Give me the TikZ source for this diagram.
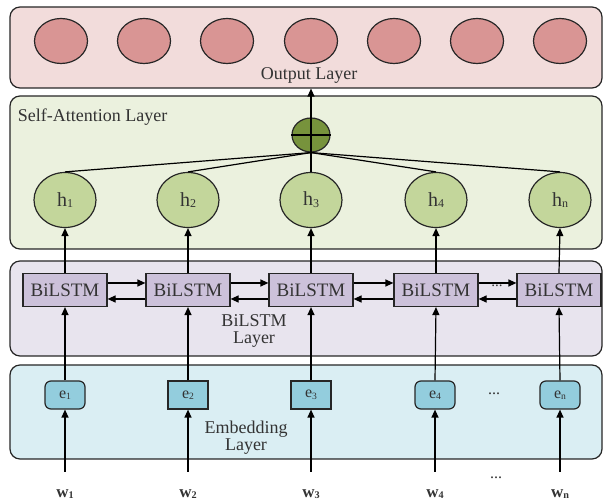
\documentclass[tikz,border=0pt]{standalone}
\usepackage{fontspec}
\setmainfont{Liberation Serif}
\usetikzlibrary{shapes.geometric,arrows.meta}
\definecolor{outbg}{HTML}{F2DCDB}
\definecolor{outfill}{HTML}{D99594}
\definecolor{attbg}{HTML}{EBF1DE}
\definecolor{hfill}{HTML}{C3D69B}
\definecolor{plusfill}{HTML}{77933C}
\definecolor{lstmbg}{HTML}{E8E4EE}
\definecolor{lstmfill}{HTML}{CCC1DA}
\definecolor{embbg}{HTML}{DAEEF3}
\definecolor{embfill}{HTML}{93CDDD}
\definecolor{txt}{HTML}{333333}
\newcommand{\lsub}[1]{\raisebox{-0.2ex}{\fontsize{0.6em}{0.6em}\selectfont #1}}
\begin{document}
\begin{tikzpicture}[x=1pt,y=-1pt,line width=1.2pt,
  every node/.style={text=txt},
  layer/.style={draw=black!85,rounded corners=10pt,inner sep=0pt,minimum width=592pt},
  outc/.style={ellipse,draw=black!85,fill=outfill,minimum width=53pt,minimum height=45pt,inner sep=0pt},
  hc/.style={ellipse,draw=black!85,fill=hfill,minimum width=62pt,minimum height=55pt,inner sep=0pt,font=\fontsize{20}{20}\selectfont},
  plusc/.style={ellipse,draw=black!85,fill=plusfill,minimum width=38pt,minimum height=34pt,inner sep=0pt},
  lstm/.style={rectangle,draw=black!85,fill=lstmfill,minimum width=84pt,minimum height=33pt,inner sep=0pt,font=\fontsize{19}{19}\selectfont},
  emb/.style={rectangle,draw=black!85,fill=embfill,minimum width=40pt,minimum height=28pt,inner sep=0pt,font=\fontsize{16}{16}\selectfont},
  embr/.style={emb,rounded corners=6pt},
  wlab/.style={font=\fontsize{17}{17}\selectfont\bfseries},
  lab/.style={font=\fontsize{18}{17}\selectfont,align=center},
  arr/.style={-{Triangle[length=8pt,width=7pt]}},
]
\useasboundingbox (0,0) rectangle (603,502);
% layer boxes
\node[layer,fill=outbg,minimum height=81pt] (outbox) at (306,47.5) {};
\node[layer,fill=attbg,minimum height=153pt] (attbox) at (306,172.5) {};
\node[layer,fill=lstmbg,minimum height=95pt] (lstmbox) at (306,308.5) {};
\node[layer,fill=embbg,minimum height=94pt] (embbox) at (306,412) {};
% output layer
\foreach \i/\x in {1/61,2/144,3/227,4/311,5/394,6/477,7/560}
  \node[outc] (o\i) at (\x,41) {};
\node[lab] (outlab) at (309,75) {Output Layer};
% self-attention
\node[lab,anchor=west] (attlab) at (14,117) {Self-Attention Layer};
\node[plusc] (plus) at (311,135) {};
\draw (plus.west) -- (plus.east) (plus.north) -- (plus.south);
\node[hc] (h1) at (65,200) {h\lsub{1}};
\node[hc] (h2) at (188,200) {h\lsub{2}};
\node[hc] (h3) at (311,200) {h\lsub{3}};
\node[hc] (h4) at (436,200) {h\lsub{4}};
\node[hc] (h5) at (560,200) {h\lsub{n}};
\foreach \i in {1,...,5} \draw (h\i.north) -- (plus.south);
\draw[arr] (plus.north) -- (plus |- outbox.south);
% BiLSTM
\node[lstm] (b1) at (65,290) {BiLSTM};
\node[lstm] (b2) at (188,290) {BiLSTM};
\node[lstm] (b3) at (311,290) {BiLSTM};
\node[lstm] (b4) at (436,290) {BiLSTM};
\node[lstm] (b5) at (559,290) {BiLSTM};
\foreach \a/\b in {1/2,2/3,3/4,4/5}{
  \draw[arr] ([yshift=7pt]b\a.east) -- ([yshift=7pt]b\b.west);
  \draw[arr] ([yshift=-9pt]b\b.west) -- ([yshift=-9pt]b\a.east);
}
\node[font=\fontsize{15}{15}\selectfont] (ldots) at (497,286) {...};
\node[lab] (lstmlab) at (254,331) {BiLSTM\\Layer};
\foreach \i in {1,...,5} \draw[arr] (b\i.north) -- (h\i.south);
% embedding
\node[embr] (e1) at (65,395) {e\lsub{1}};
\node[emb] (e2) at (188,395) {e\lsub{2}};
\node[emb] (e3) at (311,395) {e\lsub{3}};
\node[embr] (e4) at (435,395) {e\lsub{4}};
\node[embr] (e5) at (560,395) {e\lsub{n}};
\node[font=\fontsize{16}{16}\selectfont] (edots) at (494,394) {...};
\node[lab] (emblab) at (246,438) {Embedding\\Layer};
\foreach \i in {1,...,5} \draw[arr] (e\i.north) -- (b\i.south);
% inputs
\foreach \i/\x/\s in {1/65/1,2/188/2,3/311/3,4/435/4,5/560/n}{
  \node[wlab] (w\i) at (\x,494) {w\lsub{\s}};
  \coordinate (s\i) at (\x,472);
  \draw[arr] (s\i) -- (e\i.south);
}
\node[font=\fontsize{16}{16}\selectfont] (wdots) at (496,478) {...};
\end{tikzpicture}
\end{document}
